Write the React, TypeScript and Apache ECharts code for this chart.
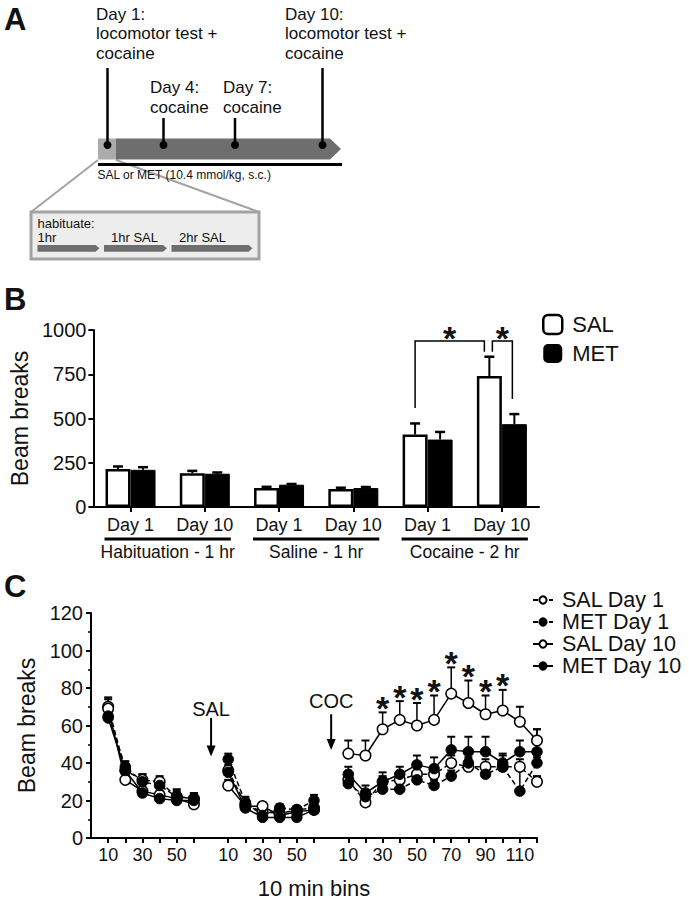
import React, { useEffect, useRef } from "react";
import * as echarts from "echarts";

const FONT = "'Liberation Sans', Arial, Helvetica, sans-serif";
const INK = "#111";

// ---------------- Panel B : total beam breaks ----------------
const dayLabels = ["Day 1", "Day 10", "Day 1", "Day 10", "Day 1", "Day 10"];
const phaseLabels = ["Habituation - 1 hr", "Saline - 1 hr", "Cocaine - 2 hr"];
const salTotals = [214, 190, 107, 101, 410, 740];
const salTotalsSem = [15, 14, 7, 8, 62, 109];
const metTotals = [210, 188, 126, 107, 381, 468];
const metTotalsSem = [15, 7, 4, 6, 43, 57];
// significance brackets (category index, bar, leg base value, top value)
const sigBrackets = [
  { from: 4, fromBar: "SAL", fromNudge: 0, fromBase: 560, to: 5, toBar: "SAL", toNudge: -5, toBase: 877, top: 938 },
  { from: 5, fromBar: "SAL", fromNudge: 3, fromBase: 877, to: 5, toBar: "MET", toNudge: -2, toBase: 610, top: 938 },
];

// ---------------- Panel C : 10 min bins ----------------
const habBins = ["10", "20", "30", "40", "50", "60"];
const salBins = ["10", "20", "30", "40", "50", "60"];
const cocBins = ["10", "20", "30", "40", "50", "60", "70", "80", "90", "100", "110", "120"];
const labelledBins = ["10", "30", "50", "70", "90", "110"];

// values: 6 habituation bins, 6 saline bins, 12 cocaine bins
const salDay1 = [70, 36, 31, 30, 22, 21, 36, 18, 14, 13, 15, 16, 31, 19, 30, 31, 34, 34, 40, 38, 38, 38, 38, 30];
const salDay1Sem = [5, 3, 3, 3, 3, 3, 3, 3, 2, 2, 2, 2, 3, 4, 3, 3, 4, 4, 4, 4, 4, 6, 4, 3];
const metDay1 = [65, 38, 30, 28, 22, 21, 42, 19, 12, 16, 15, 20, 29, 22, 26, 26, 31, 28, 33, 40, 34, 38, 25, 40];
const metDay1Sem = [3, 3, 4, 3, 4, 3, 3, 3, 2, 2, 2, 3, 3, 3, 3, 3, 3, 3, 3, 3, 3, 3, 14, 3];
const salDay10 = [69, 31, 25, 23, 21, 18, 28, 17, 17, 12, 14, 15, 45, 44, 58, 63, 60, 63, 77, 72, 66, 68, 62, 52];
const salDay10Sem = [5, 3, 2, 2, 3, 3, 3, 2, 2, 2, 2, 2, 7, 8, 9, 10, 12, 13, 14, 12, 10, 11, 8, 6];
const metDay10 = [64, 36, 24, 21, 20, 20, 35, 16, 11, 11, 11, 15, 34, 24, 30, 34, 39, 37, 47, 46, 46, 40, 46, 46];
const metDay10Sem = [3, 3, 2, 2, 2, 2, 3, 2, 2, 2, 2, 2, 4, 4, 5, 4, 5, 6, 7, 8, 8, 5, 6, 12];
const sigCocBins = ["30", "40", "50", "60", "70", "80", "90", "100"];
const phaseMarkers = [
  { label: "SAL", gap: 1, textValue: 69, arrowFrom: 64, arrowTo: 43.5 },
  { label: "COC", gap: 2, textValue: 73, arrowFrom: 66, arrowTo: 47 },
];

// slot layout: gap, habituation, gap, saline, gap, cocaine
const xSlots = ["", ...habBins, "", ...salBins, "", ...cocBins];
const gapSlots = xSlots.map((v, i) => (v === "" ? i : -1)).filter((i) => i >= 0);
const toSlots = (v: number[]) => [null, ...v.slice(0, 6), null, ...v.slice(6, 12), null, ...v.slice(12)];
const slotOfValue = (k: number) => (k < 6 ? k + 1 : k < 12 ? k + 2 : k + 3);

const BAR_W = 25;
const barOffset: Record<string, number> = { SAL: -BAR_W / 2, MET: BAR_W / 2 };

function txt(text: string, x: number, y: number, size: number, extra: any = {}) {
  return {
    type: "text",
    x,
    y,
    silent: true,
    style: {
      text,
      fill: INK,
      fontSize: size,
      fontFamily: FONT,
      align: "left",
      verticalAlign: "middle",
      textAlign: "left",
      textVerticalAlign: "middle",
      ...extra,
    },
  };
}

function panelAGraphics() {
  const els: any[] = [];
  const arrowGrey = "#6e6e6e";
  // zoom lines + inset
  els.push({ type: "line", shape: { x1: 98, y1: 160, x2: 31, y2: 212 }, style: { stroke: "#a3a3a3", lineWidth: 2 } });
  els.push({ type: "line", shape: { x1: 116, y1: 160, x2: 259, y2: 212 }, style: { stroke: "#a3a3a3", lineWidth: 2 } });
  els.push({ type: "rect", shape: { x: 31, y: 212, width: 228, height: 47 }, style: { fill: "#ededed", stroke: "#a3a3a3", lineWidth: 3 } });
  els.push(txt("habituate:\n1hr", 37.5, 230.5, 13, { lineHeight: 13.5 }));
  els.push(txt("1hr SAL", 111, 237.5, 13));
  els.push(txt("2hr SAL", 179, 237.5, 13));
  const small = [[37.5, 99.5], [104, 167], [171.5, 252.5]];
  small.forEach(([a, b]) => {
    els.push({
      type: "polygon",
      shape: { points: [[a, 245], [b - 4, 245], [b, 248.3], [b - 4, 251.7], [a, 251.7]] },
      style: { fill: arrowGrey },
    });
  });
  // main arrow
  els.push({ type: "rect", shape: { x: 98, y: 138.5, width: 18, height: 21 }, style: { fill: "#ababab" } });
  els.push({
    type: "polygon",
    shape: { points: [[116, 138.5], [330, 138.5], [341, 149], [330, 159.5], [116, 159.5]] },
    style: { fill: arrowGrey },
  });
  els.push({ type: "line", shape: { x1: 98, y1: 164.5, x2: 342, y2: 164.5 }, style: { stroke: "#000", lineWidth: 3 } });
  els.push(txt("SAL or MET (10.4 mmol/kg, s.c.)", 97.5, 174.5, 12));
  // timeline events
  const events = [
    { text: "Day 1:\nlocomotor test +\ncocaine", tx: 96, ty: 33.5, lx: 107.5, top: 68 },
    { text: "Day 4:\ncocaine", tx: 150, ty: 97.7, lx: 163.5, top: 118 },
    { text: "Day 7:\ncocaine", tx: 223, ty: 97.7, lx: 235, top: 118 },
    { text: "Day 10:\nlocomotor test +\ncocaine", tx: 285, ty: 33.5, lx: 322.5, top: 68 },
  ];
  events.forEach((e) => {
    els.push(txt(e.text, e.tx, e.ty, 17, { lineHeight: 19.5 }));
    els.push({ type: "line", shape: { x1: e.lx, y1: e.top, x2: e.lx, y2: 145 }, style: { stroke: "#000", lineWidth: 2.5 } });
    els.push({ type: "circle", shape: { cx: e.lx, cy: 145, r: 4 }, style: { fill: "#000" } });
  });
  // panel letters
  els.push(txt("A", 4, 19, 31, { fontWeight: "bold" }));
  els.push(txt("B", 4, 299, 31, { fontWeight: "bold" }));
  els.push(txt("C", 4, 586, 31, { fontWeight: "bold" }));
  return els;
}

function errorBarRenderer(offset: number, capHalf: number, lw: number) {
  return (params: any, api: any) => {
    const x = api.value(0);
    const y = api.value(1);
    const e = api.value(2);
    const p0 = api.coord([x, y]);
    const p1 = api.coord([x, y + e]);
    const cx = p0[0] + offset;
    return {
      type: "group",
      children: [
        { type: "line", shape: { x1: cx, y1: p0[1], x2: cx, y2: p1[1] }, style: { stroke: "#000", lineWidth: lw } },
        { type: "line", shape: { x1: cx - capHalf, y1: p1[1], x2: cx + capHalf, y2: p1[1] }, style: { stroke: "#000", lineWidth: lw + 0.5 } },
      ],
    };
  };
}

function starText(x: number, y: number) {
  return {
    type: "text",
    x,
    y,
    style: {
      text: "*",
      fill: INK,
      fontSize: 34,
      fontWeight: "bold",
      fontFamily: FONT,
      align: "center",
      verticalAlign: "middle",
      textAlign: "center",
      textVerticalAlign: "middle",
    },
  };
}

function buildOption() {
  const axisLineStyle = { color: "#000", width: 2 };
  const cDefs = [
    { name: "SAL Day 1", mean: salDay1, sem: salDay1Sem, filled: false, dashed: true },
    { name: "SAL Day 10", mean: salDay10, sem: salDay10Sem, filled: false, dashed: false },
    { name: "MET Day 1", mean: metDay1, sem: metDay1Sem, filled: true, dashed: true },
    { name: "MET Day 10", mean: metDay10, sem: metDay10Sem, filled: true, dashed: false },
  ];

  const series: any[] = [];
  // Panel B bars
  series.push({
    type: "bar",
    name: "SAL",
    xAxisIndex: 0,
    yAxisIndex: 0,
    data: salTotals,
    barWidth: BAR_W,
    barGap: "0%",
    itemStyle: { color: "#fff", borderColor: "#000", borderWidth: 2.5 },
    emphasis: { disabled: true },
    z: 2,
  });
  series.push({
    type: "bar",
    name: "MET",
    xAxisIndex: 0,
    yAxisIndex: 0,
    data: metTotals,
    barWidth: BAR_W,
    barGap: "0%",
    itemStyle: { color: "#000", borderColor: "#000", borderWidth: 1 },
    emphasis: { disabled: true },
    z: 2,
  });
  series.push({
    type: "custom",
    xAxisIndex: 0,
    yAxisIndex: 0,
    silent: true,
    z: 3,
    data: salTotals.map((v, i) => [i, v, salTotalsSem[i]]),
    renderItem: errorBarRenderer(barOffset.SAL, 5, 2),
  });
  series.push({
    type: "custom",
    xAxisIndex: 0,
    yAxisIndex: 0,
    silent: true,
    z: 3,
    data: metTotals.map((v, i) => [i, v, metTotalsSem[i]]),
    renderItem: errorBarRenderer(barOffset.MET, 5, 2),
  });
  // brackets + stars
  series.push({
    type: "custom",
    xAxisIndex: 0,
    yAxisIndex: 0,
    silent: true,
    z: 4,
    data: sigBrackets.map((b) => [b.from, b.top]),
    renderItem: (params: any, api: any) => {
      const b = sigBrackets[params.dataIndex];
      const xl = api.coord([b.from, 0])[0] + barOffset[b.fromBar] + b.fromNudge;
      const xr = api.coord([b.to, 0])[0] + barOffset[b.toBar] + b.toNudge;
      const yt = api.coord([0, b.top])[1];
      const yl = api.coord([0, b.fromBase])[1];
      const yr = api.coord([0, b.toBase])[1];
      return {
        type: "group",
        children: [
          { type: "polyline", shape: { points: [[xl, yl], [xl, yt], [xr, yt], [xr, yr]] }, style: { stroke: "#000", lineWidth: 1.5, fill: null } },
          starText((xl + xr) / 2, yt - 3),
        ],
      };
    },
  });
  // group underlines
  series.push({
    type: "custom",
    xAxisIndex: 0,
    yAxisIndex: 0,
    silent: true,
    z: 4,
    data: phaseLabels.map((_, i) => [2 * i, 0]),
    renderItem: (params: any, api: any) => {
      const i = params.dataIndex;
      const x0 = api.coord([2 * i, 0])[0] - BAR_W - 1;
      const x1 = api.coord([2 * i + 1, 0])[0] + BAR_W + 1;
      const y0 = api.coord([0, 0])[1] + 32;
      return {
        type: "group",
        children: [
          { type: "line", shape: { x1: x0, y1: y0, x2: x1, y2: y0 }, style: { stroke: "#000", lineWidth: 3 } },
          {
            type: "text",
            x: (x0 + x1) / 2,
            y: y0 + 13,
            style: {
              text: phaseLabels[i],
              fill: INK,
              fontSize: 17.5,
              fontFamily: FONT,
              align: "center",
              verticalAlign: "middle",
              textAlign: "center",
              textVerticalAlign: "middle",
            },
          },
        ],
      };
    },
  });

  // Panel C error bars then lines
  cDefs.forEach((d) => {
    series.push({
      type: "custom",
      xAxisIndex: 1,
      yAxisIndex: 1,
      silent: true,
      z: 2,
      data: d.mean.map((v, k) => [slotOfValue(k), v, d.sem[k]]),
      renderItem: errorBarRenderer(0, 4, 1.5),
    });
  });
  cDefs.forEach((d) => {
    series.push({
      type: "line",
      name: d.name,
      xAxisIndex: 1,
      yAxisIndex: 1,
      data: toSlots(d.mean),
      connectNulls: false,
      symbol: "circle",
      symbolSize: 10.5,
      showAllSymbol: true,
      z: d.filled ? 5 : 4,
      lineStyle: { color: "#000", width: 1.5, type: d.dashed ? [5, 3] : "solid" },
      itemStyle: d.filled
        ? { color: "#000", borderColor: "#000", borderWidth: 1 }
        : { color: "#fff", borderColor: "#000", borderWidth: 1.5 },
      emphasis: { disabled: true },
    });
  });
  // stars in C
  series.push({
    type: "custom",
    xAxisIndex: 1,
    yAxisIndex: 1,
    silent: true,
    z: 6,
    data: sigCocBins.map((b) => {
      const k = 12 + cocBins.indexOf(b);
      return [slotOfValue(k), salDay10[k] + salDay10Sem[k]];
    }),
    renderItem: (params: any, api: any) => {
      const p = api.coord([api.value(0), api.value(1)]);
      return starText(p[0], p[1] - 4.5);
    },
  });
  // SAL / COC arrows
  series.push({
    type: "custom",
    xAxisIndex: 1,
    yAxisIndex: 1,
    silent: true,
    z: 6,
    data: phaseMarkers.map((m) => [gapSlots[m.gap], m.textValue]),
    renderItem: (params: any, api: any) => {
      const m = phaseMarkers[params.dataIndex];
      const x = api.coord([gapSlots[m.gap], 0])[0];
      const yt = api.coord([0, m.textValue])[1];
      const ya = api.coord([0, m.arrowFrom])[1];
      const yb = api.coord([0, m.arrowTo])[1];
      return {
        type: "group",
        children: [
          {
            type: "text",
            x,
            y: yt,
            style: {
              text: m.label,
              fill: INK,
              fontSize: 20,
              fontFamily: FONT,
              align: "center",
              verticalAlign: "middle",
              textAlign: "center",
              textVerticalAlign: "middle",
            },
          },
          { type: "line", shape: { x1: x, y1: ya, x2: x, y2: yb - 8 }, style: { stroke: "#000", lineWidth: 2 } },
          { type: "polygon", shape: { points: [[x - 4.5, yb - 11], [x + 4.5, yb - 11], [x, yb]] }, style: { fill: "#000" } },
        ],
      };
    },
  });

  return {
    animation: false,
    backgroundColor: "#fff",
    textStyle: { fontFamily: FONT, color: INK },
    grid: [
      { left: 91, top: 330, width: 448, height: 177 },
      { left: 91, top: 613, width: 446, height: 227 },
    ],
    xAxis: [
      {
        type: "category",
        gridIndex: 0,
        data: dayLabels,
        axisLine: { lineStyle: axisLineStyle },
        axisTick: { show: true, alignWithLabel: true, length: 5, lineStyle: axisLineStyle },
        axisLabel: { fontSize: 18, color: INK, margin: 9, fontFamily: FONT },
        splitLine: { show: false },
      },
      {
        type: "category",
        gridIndex: 1,
        data: xSlots,
        boundaryGap: false,
        axisLine: { lineStyle: axisLineStyle },
        axisTick: { show: true, length: 5, interval: (i: number, v: string) => v !== "" && i > 0, lineStyle: axisLineStyle },
        axisLabel: {
          fontSize: 18,
          color: INK,
          margin: 8,
          fontFamily: FONT,
          interval: (i: number, v: string) => labelledBins.includes(v),
        },
        splitLine: { show: false },
        name: "10 min bins",
        nameLocation: "middle",
        nameGap: 39,
        nameTextStyle: { fontSize: 22, color: INK, fontFamily: FONT },
      },
    ],
    yAxis: [
      {
        type: "value",
        gridIndex: 0,
        min: 0,
        max: 1000,
        interval: 250,
        axisLine: { show: true, lineStyle: axisLineStyle },
        axisTick: { show: true, length: 5, lineStyle: axisLineStyle },
        axisLabel: { fontSize: 20, color: INK, margin: 7, fontFamily: FONT, formatter: (v: number) => String(v) },
        splitLine: { show: false },
        name: "Beam breaks",
        nameLocation: "middle",
        nameGap: 55,
        nameTextStyle: { fontSize: 23, color: INK, fontFamily: FONT },
      },
      {
        type: "value",
        gridIndex: 1,
        min: 0,
        max: 120,
        interval: 20,
        axisLine: { show: true, lineStyle: axisLineStyle },
        axisTick: { show: true, length: 5, lineStyle: axisLineStyle },
        minorTick: { show: true, splitNumber: 2, length: 3, lineStyle: { color: "#000", width: 1.5 } },
        axisLabel: { fontSize: 20, color: INK, margin: 8, fontFamily: FONT, formatter: (v: number) => String(v) },
        splitLine: { show: false },
        name: "Beam breaks",
        nameLocation: "middle",
        nameGap: 53,
        nameTextStyle: { fontSize: 23, color: INK, fontFamily: FONT },
      },
    ],
    legend: [
      {
        orient: "vertical",
        left: 537,
        top: 308.5,
        itemWidth: 19,
        itemHeight: 19,
        itemGap: 7,
        selectedMode: false,
        data: [
          { name: "SAL", icon: "roundRect", itemStyle: { color: "#fff", borderColor: "#000", borderWidth: 2.5 } },
          { name: "MET", icon: "roundRect", itemStyle: { color: "#000", borderColor: "#000", borderWidth: 0 } },
        ],
        textStyle: { fontSize: 22, lineHeight: 19, color: INK, fontFamily: FONT, padding: [0, 0, 0, 5] },
      },
      {
        orient: "vertical",
        left: 527,
        top: 584,
        itemWidth: 20,
        itemHeight: 9,
        itemGap: 0,
        selectedMode: false,
        data: ["SAL Day 1", "MET Day 1", "SAL Day 10", "MET Day 10"],
        textStyle: { fontSize: 21.5, lineHeight: 22, color: INK, fontFamily: FONT, padding: [0, 0, 0, 4] },
      },
    ],
    graphic: { elements: panelAGraphics() },
    series,
  };
}

export default function App() {
  const ref = useRef<HTMLDivElement>(null);
  useEffect(() => {
    if (!ref.current) return;
    const chart = echarts.init(ref.current, undefined, { renderer: "svg" });
    chart.setOption(buildOption() as any);
    return () => chart.dispose();
  }, []);
  return (
    <div
      ref={ref}
      style={{ position: "absolute", left: 0, top: 0, width: 689, height: 900, background: "#fff" }}
    />
  );
}
